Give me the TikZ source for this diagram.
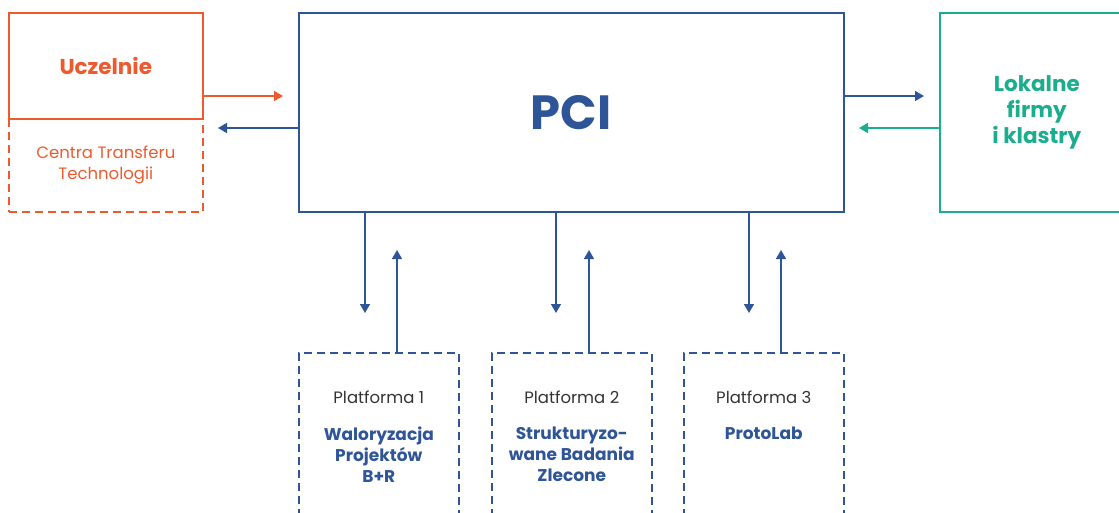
\documentclass[tikz,border=0pt]{standalone}
\usepackage{fontspec}
\setmainfont{Poppins}
\usetikzlibrary{arrows.meta, positioning}
\definecolor{pciblue}{HTML}{2E5597}
\definecolor{uniorange}{HTML}{EE5A2E}
\definecolor{firmteal}{HTML}{1AAE8E}
\definecolor{labelgray}{HTML}{333333}
\tikzset{
    box/.style={draw, line width=1.6pt, minimum width=194pt, anchor=north west, inner sep=0pt},
    unibox/.style={box, draw=uniorange, text=uniorange},
    pcibox/.style={box, draw=pciblue, text=pciblue},
    firmbox/.style={box, draw=firmteal, text=firmteal},
    platbox/.style={box, draw=pciblue, dash pattern=on 8pt off 5pt, minimum width=160pt, minimum height=200pt},
    link/.style={line width=1.6pt, -{Triangle[length=9pt, width=10pt]}},
    plattitle/.style={inner sep=0pt, text=labelgray, font=\fontsize{16.5}{21}\selectfont},
    platname/.style={inner sep=0pt, align=center, text=pciblue, font=\fontsize{17}{21}\selectfont\bfseries},
}

\begin{document}
\begin{tikzpicture}[x=1pt, y=1pt]
    \useasboundingbox (0,0) rectangle (1119,-513);

    \node[unibox, minimum height=106pt, font=\fontsize{21.5}{26}\selectfont\bfseries] (ucz) at (8,-12) {Uczelnie};
    \node[unibox, minimum height=93pt, dash pattern=on 8pt off 5pt, align=center,
          font=\fontsize{16.5}{21}\selectfont] (ctt) at (8,-118) {Centra Transferu\\Technologii};
    \node[pcibox, minimum width=545pt, minimum height=199pt, font=\fontsize{48}{52}\selectfont\bfseries] (pci) at (298,-12) {PCI};
    \node[firmbox, minimum height=199pt, align=center, font=\fontsize{21.5}{26}\selectfont\bfseries] (firm) at (939,-12) {Lokalne\\firmy\\i klastry};

    \node[platbox] (p1) at (298,-352) {};
    \node[platbox] (p2) at (491,-352) {};
    \node[platbox] (p3) at (683,-352) {};

    \node[plattitle, below=39pt of p1.north] (p1t) {Platforma 1};
    \node[plattitle, below=39pt of p2.north] (p2t) {Platforma 2};
    \node[plattitle, below=39pt of p3.north] (p3t) {Platforma 3};
    \node[platname, below=23pt of p1t] (p1n) {Waloryzacja\\Projektów\\B+R};
    \node[platname, below=23pt of p2t] (p2n) {Strukturyzo-\\wane Badania\\Zlecone};
    \node[platname, below=23pt of p3t] (p3n) {ProtoLab};

    \coordinate (uczin) at (283,-96);
    \coordinate (cttin) at (218,-128);
    \coordinate (firmin) at (924,-96);
    \coordinate (pciin) at (859,-128);
    \draw[link, uniorange] (ucz.east |- uczin) -- (uczin);
    \draw[link, pciblue] (pci.west |- cttin) -- (cttin);
    \draw[link, pciblue] (pci.east |- firmin) -- (firmin);
    \draw[link, firmteal] (firm.west |- pciin) -- (pciin);

    \coordinate (d1) at (365,-313);
    \coordinate (d2) at (556,-313);
    \coordinate (d3) at (749,-313);
    \coordinate (u1) at (397,-250);
    \coordinate (u2) at (589,-250);
    \coordinate (u3) at (781,-250);
    \draw[link, pciblue] (pci.south -| d1) -- (d1);
    \draw[link, pciblue] (pci.south -| d2) -- (d2);
    \draw[link, pciblue] (pci.south -| d3) -- (d3);
    \draw[link, pciblue] (p1.north -| u1) -- (u1);
    \draw[link, pciblue] (p2.north -| u2) -- (u2);
    \draw[link, pciblue] (p3.north -| u3) -- (u3);
\end{tikzpicture}
\end{document}
